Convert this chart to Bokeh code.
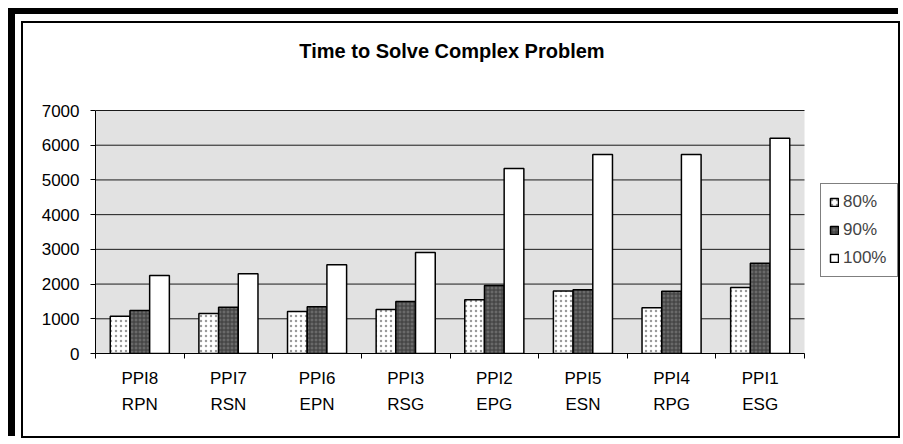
from bokeh.plotting import figure
from bokeh.models import (Range1d, FixedTicker, Legend, LegendItem,
                          ColumnDataSource, BoxAnnotation, Label)
from bokeh.layouts import column
from bokeh.transform import dodge
from bokeh.embed import file_html
from bokeh.resources import INLINE

# ---- data ----
categories = ["PPI8\nRPN", "PPI7\nRSN", "PPI6\nEPN", "PPI3\nRSG",
              "PPI2\nEPG", "PPI5\nESN", "PPI4\nRPG", "PPI1\nESG"]
series_names = ["80%", "90%", "100%"]
v80 = [1070, 1150, 1210, 1270, 1550, 1800, 1320, 1900]
v90 = [1240, 1330, 1350, 1500, 1960, 1840, 1790, 2600]
v100 = [2250, 2300, 2560, 2910, 5330, 5730, 5730, 6200]
y_ticks = [0, 1000, 2000, 3000, 4000, 5000, 6000, 7000]
title_text = "Time to Solve Complex Problem"

n = len(categories)
centers = [i + 0.5 for i in range(n)]
bounds = [float(i) for i in range(n + 1)]
src = ColumnDataSource(dict(x=centers, v80=v80, v90=v90, v100=v100))
grid_src = ColumnDataSource(dict(y=y_ticks, x0=[0] * len(y_ticks),
                                 x1=[n] * len(y_ticks)))

FONT = "Liberation Sans"
# ---- layout (pixels) ----
W, H = 875, 413
ML, MB = 72, 83
PLOT_PX = 243          # height of the value axis 0..7000
CAT_PX = 709           # width of the category area
FRAME_W = W - ML
FRAME_H = H - MB
TITLE_ABOVE_PX = 60    # title centre above the plot area top

y_lo, y_hi = y_ticks[0], y_ticks[-1]
px_per_unit = PLOT_PX / (y_hi - y_lo)
y_end = y_lo + FRAME_H / px_per_unit
x_end = n * FRAME_W / CAT_PX
title_y = y_hi + TITLE_ABOVE_PX / px_per_unit

p = figure(width=W, height=H, x_range=Range1d(0, x_end),
           y_range=Range1d(y_lo, y_end),
           output_backend="svg", toolbar_location=None, title=None,
           min_border_left=ML, min_border_right=0,
           min_border_top=0, min_border_bottom=MB,
           styles={"outline": "2px solid black"})

p.background_fill_color = "white"
p.border_fill_color = "white"
p.outline_line_color = None

# plot area (grey) limited to the category region
p.add_layout(BoxAnnotation(left=0, right=n, bottom=y_lo, top=y_hi,
                           fill_color="#e2e2e2", fill_alpha=1.0,
                           line_color=None, level="underlay"))

# gridlines limited to the plot area
p.xgrid.grid_line_color = None
p.ygrid.grid_line_color = None
p.segment(x0="x0", x1="x1", y0="y", y1="y", source=grid_src,
          line_color="#1a1a1a", line_width=1)

bw = 1.0 / 4.5
common = dict(source=src, width=bw, line_color="black", line_width=1.5)
r80 = p.vbar(x=dodge("x", -bw, range=p.x_range), top="v80",
             fill_color="white", hatch_pattern="dot", hatch_color="#9a9a9a",
             hatch_scale=5, hatch_weight=1, **common)
r90 = p.vbar(x=dodge("x", 0, range=p.x_range), top="v90",
             fill_color="#6a6a6a", hatch_pattern="cross", hatch_color="#3a3a3a",
             hatch_scale=4, hatch_weight=1, **common)
r100 = p.vbar(x=dodge("x", bw, range=p.x_range), top="v100",
              fill_color="white", **common)

# title, centred over the category area
p.add_layout(Label(x=n / 2, y=title_y, text=title_text, x_offset=2,
                   text_align="center", text_baseline="middle",
                   text_font=FONT, text_font_size="20px",
                   text_font_style="bold", text_color="black"))

# y axis
p.yaxis.ticker = FixedTicker(ticks=y_ticks)
p.yaxis.bounds = (y_lo, y_hi)
p.yaxis.axis_line_color = "black"
p.yaxis.major_tick_line_color = "black"
p.yaxis.major_tick_out = 5
p.yaxis.major_tick_in = 0
p.yaxis.minor_tick_line_color = None
p.yaxis.major_label_text_font = FONT
p.yaxis.major_label_text_font_size = "17px"
p.yaxis.major_label_text_color = "black"
p.yaxis.major_label_standoff = 11

# x axis
p.xaxis.ticker = FixedTicker(ticks=centers, minor_ticks=bounds)
p.xaxis.bounds = (0, n)
p.xaxis.major_label_overrides = {c: lab for c, lab in zip(centers, categories)}
p.xaxis.axis_line_color = "black"
p.xaxis.major_tick_out = 0
p.xaxis.major_tick_in = 0
p.xaxis.minor_tick_line_color = "black"
p.xaxis.minor_tick_out = 5
p.xaxis.minor_tick_in = 0
p.xaxis.major_label_text_font = FONT
p.xaxis.major_label_text_font_size = "17px"
p.xaxis.major_label_text_color = "black"
p.xaxis.major_label_text_line_height = 1.4
p.xaxis.major_label_standoff = 10

legend = Legend(items=[LegendItem(label=series_names[0], renderers=[r80]),
                       LegendItem(label=series_names[1], renderers=[r90]),
                       LegendItem(label=series_names[2], renderers=[r100])],
                location=(725, 76), margin=0, padding=8, spacing=8,
                glyph_width=10, glyph_height=10, label_height=20,
                label_width=46, label_standoff=4,
                label_text_font=FONT, label_text_font_size="17px",
                border_line_color="black", border_line_width=1,
                background_fill_color="white")
p.add_layout(legend, "center")

layout = column(p, styles={"border-top": "6px solid black",
                           "border-left": "7px solid black",
                           "padding": "9px 0 0 8px",
                           "margin": "8px 0 0 8px"})

open("out.html", "w").write(file_html(layout, INLINE))
